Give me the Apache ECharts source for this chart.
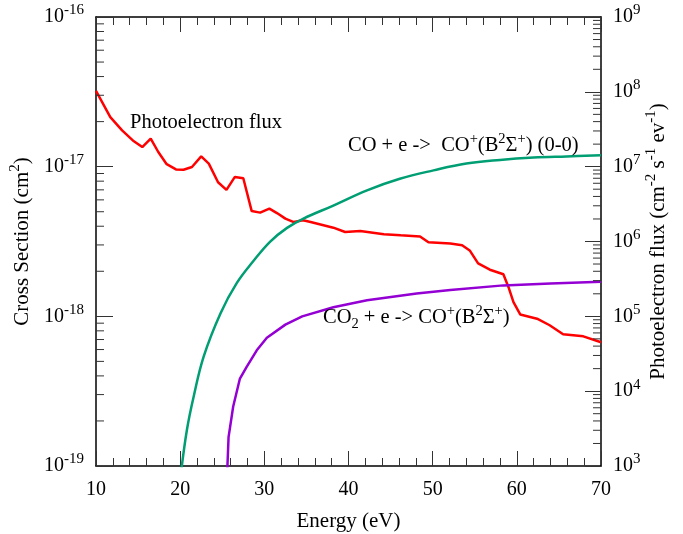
<!DOCTYPE html>
<html><head><meta charset="utf-8">
<script src="https://cdn.jsdelivr.net/npm/echarts@6/dist/echarts.min.js"></script>
<style>html,body{margin:0;padding:0;background:#fff}#c{width:683px;height:534px}</style>
</head><body><div id="c"></div>
<script>
// ---- data ----
const xTickValues = [10, 20, 30, 40, 50, 60, 70];

// Photoelectron flux (cm^-2 s^-1 eV^-1), right axis
const fluxEnergy = [10.0, 11.7, 13.1, 14.5, 15.5, 16.5, 17.4, 18.4, 19.5, 20.4, 21.4, 22.5, 23.4, 24.5, 25.5, 26.5, 27.5, 28.5, 29.5, 30.6, 31.5, 32.5, 33.5, 34.6, 35.5, 38.2, 39.6, 41.4, 44.2, 46.2, 48.5, 49.5, 52.1, 53.5, 54.4, 55.4, 56.8, 58.4, 59.0, 59.6, 60.4, 62.4, 63.9, 65.5, 67.9, 70.0];
const fluxValues = [1.03e8, 4.6e7, 3.06e7, 2.18e7, 1.83e7, 2.37e7, 1.57e7, 1.08e7, 9.2e6, 9.1e6, 9.9e6, 1.37e7, 1.10e7, 6.2e6, 4.9e6, 7.3e6, 7.0e6, 2.55e6, 2.43e6, 2.75e6, 2.40e6, 2.02e6, 1.82e6, 1.92e6, 1.82e6, 1.53e6, 1.34e6, 1.38e6, 1.25e6, 1.21e6, 1.17e6, 9.75e5, 9.4e5, 8.9e5, 7.6e5, 5.1e5, 4.2e5, 3.65e5, 2.47e5, 1.55e5, 1.06e5, 9.3e4, 7.6e4, 5.75e4, 5.4e4, 4.5e4];

// CO + e -> CO+(B2Sigma+) (0-0) cross section (cm^2), left axis
const coEnergy = [20.1, 20.8, 21.6, 22.8, 24.8, 26.7, 28.7, 30.7, 32.7, 34.65, 38.2, 42.2, 46.1, 50.1, 54.0, 58.0, 62.0, 65.9, 70.0];
const coSigma = [9.0e-20, 1.74e-19, 2.9e-19, 5.4e-19, 1.05e-18, 1.66e-18, 2.34e-18, 3.16e-18, 3.9e-18, 4.5e-18, 5.5e-18, 6.95e-18, 8.3e-18, 9.45e-18, 1.05e-17, 1.11e-17, 1.15e-17, 1.17e-17, 1.19e-17];

// CO2 + e -> CO+(B2Sigma+) cross section (cm^2), left axis
const co2Energy = [25.6, 25.75, 26.3, 27.1, 27.9, 29.1, 30.3, 32.5, 34.5, 38.2, 42.2, 48.1, 52.1, 58.4, 64.0, 70.0];
const co2Sigma = [9.5e-20, 1.56e-19, 2.5e-19, 3.84e-19, 4.6e-19, 5.93e-19, 7.2e-19, 8.8e-19, 1.0e-18, 1.15e-18, 1.28e-18, 1.42e-18, 1.50e-18, 1.61e-18, 1.66e-18, 1.70e-18];

// ---- chart ----
const UNIT = 1e-19; // left axis drawn in units of 1e-19 cm^2
const FONT = 'Liberation Serif';
const zip = (xs, ys, f) => xs.map((x, i) => [x, f ? f(ys[i]) : ys[i]]);

// tick-label rich styles (20px base)
const richNum = {
  b: {fontSize: 20, fontFamily: FONT, color: '#000', lineHeight: 28},
  s: {fontSize: 15, fontFamily: FONT, color: '#000', lineHeight: 14, verticalAlign: 'top'}
};
// axis-name rich styles
const richTxt = {
  b: {fontSize: 21, fontFamily: FONT, color: '#000', lineHeight: 28},
  s: {fontSize: 15, fontFamily: FONT, color: '#000', lineHeight: 14, verticalAlign: 'top'}
};
// annotation rich styles
const richAnn = {
  b: {fontSize: 20.5, fontFamily: FONT, color: '#000', lineHeight: 28},
  s: {fontSize: 14.5, fontFamily: FONT, color: '#000', lineHeight: 14, verticalAlign: 'top'},
  d: {fontSize: 14.5, fontFamily: FONT, color: '#000', lineHeight: 18, verticalAlign: 'bottom'}
};

// minor tick values (2..9 per decade)
function minorTicks(lo, hi) {
  const out = [];
  for (let e = lo; e < hi; e++) for (let m = 2; m <= 9; m++) out.push(m * Math.pow(10, e));
  return out;
}
const leftMinor = minorTicks(0, 3);
const rightMinor = minorTicks(3, 9);

function tickSeries(vals, yIdx, xVal, dir) {
  return {
    type: 'custom', xAxisIndex: 0, yAxisIndex: yIdx, silent: true, z: 5,
    data: vals.map(v => [xVal, v]),
    renderItem: function (params, api) {
      const p = api.coord([api.value(0), api.value(1)]);
      return {type: 'line', shape: {x1: p[0], y1: p[1], x2: p[0] + dir * 8, y2: p[1]},
        style: {stroke: '#333', lineWidth: 1}};
    }
  };
}

const xAxisBase = {
  type: 'value', min: xTickValues[0], max: xTickValues[xTickValues.length - 1], interval: 10,
  axisLine: {lineStyle: {color: '#000', width: 1.5}},
  axisTick: {inside: true, length: 15, lineStyle: {color: '#333', width: 1}},
  minorTick: {show: true, splitNumber: 5, length: 8, lineStyle: {color: '#333', width: 1}},
  splitLine: {show: false}
};

const option = {
  animation: false,
  backgroundColor: '#fff',
  grid: {left: 96, right: 82, top: 17, bottom: 68, containLabel: false, outerBoundsMode: 'none'},
  xAxis: [
    Object.assign({}, xAxisBase, {
      position: 'bottom',
      axisLabel: {fontFamily: FONT, fontSize: 20, color: '#000', margin: 14},
      name: 'Energy (eV)', nameLocation: 'middle', nameGap: 45, nameMoveOverlap: false,
      nameTextStyle: {fontFamily: FONT, fontSize: 21, color: '#000'}
    }),
    Object.assign({}, xAxisBase, {position: 'top', axisLabel: {show: false}})
  ],
  yAxis: [
    {
      type: 'log', logBase: 10, min: 1, max: 1000, position: 'left',
      axisLine: {show: true, lineStyle: {color: '#000', width: 1.5}},
      axisTick: {show: true, inside: true, length: 17, lineStyle: {color: '#333', width: 1}},
      splitLine: {show: false},
      axisLabel: {
        margin: 12,
        formatter: v => '{b|10}{s|' + (Math.round(Math.log10(v)) - 19) + '}',
        rich: richNum
      },
      name: '{b|Cross Section (cm}{s|2}{b|)}', nameLocation: 'middle', nameGap: 60, nameRotate: 90,
      nameMoveOverlap: false,
      nameTextStyle: {rich: richTxt}
    },
    {
      type: 'log', logBase: 10, min: 1e3, max: 1e9, position: 'right',
      axisLine: {show: true, lineStyle: {color: '#000', width: 1.5}},
      axisTick: {show: true, inside: true, length: 16, lineStyle: {color: '#333', width: 1}},
      splitLine: {show: false},
      axisLabel: {
        margin: 12,
        formatter: v => '{b|10}{s|' + Math.round(Math.log10(v)) + '}',
        rich: richNum
      },
      name: '{b|Photoelectron flux (cm}{s|-2}{b| s}{s|-1}{b| ev}{s|-1}{b|)}',
      nameLocation: 'middle', nameGap: 43, nameRotate: 90, nameMoveOverlap: false,
      nameTextStyle: {rich: richTxt}
    }
  ],
  series: [
    {
      name: 'flux', type: 'line', xAxisIndex: 0, yAxisIndex: 1, showSymbol: false,
      lineStyle: {color: '#ff0000', width: 2.5}, itemStyle: {color: '#ff0000'},
      data: zip(fluxEnergy, fluxValues)
    },
    {
      name: 'CO', type: 'line', xAxisIndex: 0, yAxisIndex: 0, showSymbol: false, smooth: 0.4, clip: true,
      lineStyle: {color: '#009e73', width: 2.5}, itemStyle: {color: '#009e73'},
      data: zip(coEnergy, coSigma, v => v / UNIT)
    },
    {
      name: 'CO2', type: 'line', xAxisIndex: 0, yAxisIndex: 0, showSymbol: false, clip: true,
      lineStyle: {color: '#9400d3', width: 2.5}, itemStyle: {color: '#9400d3'},
      data: zip(co2Energy, co2Sigma, v => v / UNIT)
    },
    tickSeries(leftMinor, 0, xTickValues[0], 1),
    tickSeries(rightMinor, 1, xTickValues[xTickValues.length - 1], -1)
  ],
  graphic: [
    {type: 'text', x: 130, y: 123, z: 10,
      style: {text: 'Photoelectron flux', font: '20.5px "Liberation Serif"', fill: '#000', align: 'left', verticalAlign: 'middle'}},
    {type: 'text', x: 348, y: 146, z: 10,
      style: {text: '{b|CO + e ->  CO}{s|+}{b|(B}{s|2}{b|Σ}{s|+}{b|) (0-0)}', rich: richAnn,
        font: '20.5px "Liberation Serif"', fill: '#000', align: 'left', verticalAlign: 'middle'}},
    {type: 'text', x: 323, y: 318, z: 10,
      style: {text: '{b|CO}{d|2}{b| + e -> CO}{s|+}{b|(B}{s|2}{b|Σ}{s|+}{b|)}', rich: richAnn,
        font: '20.5px "Liberation Serif"', fill: '#000', align: 'left', verticalAlign: 'middle'}}
  ]
};

const chart = echarts.init(document.getElementById('c'), null, {renderer: 'canvas'});
chart.setOption(option);
</script>
</body></html>
